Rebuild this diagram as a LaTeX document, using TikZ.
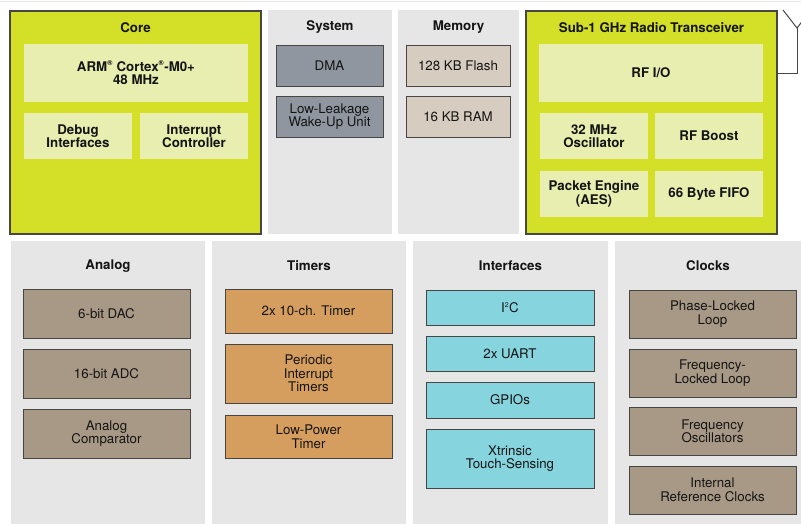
\documentclass[tikz,border=0pt]{standalone}
\usepackage{fontspec}
\setmainfont{TeX Gyre Heros}
\definecolor{lime}{RGB}{212,223,39}
\definecolor{limelight}{RGB}{232,238,176}
\definecolor{panelgray}{RGB}{230,230,230}
\definecolor{sysgray}{RGB}{143,150,159}
\definecolor{memtan}{RGB}{214,204,192}
\definecolor{taupe}{RGB}{168,153,134}
\definecolor{tmrorange}{RGB}{214,158,94}
\definecolor{ifcyan}{RGB}{134,212,222}
\definecolor{edge}{RGB}{72,70,66}
\definecolor{ink}{RGB}{20,20,20}

\begin{document}
\begin{tikzpicture}[x=1pt,y=-1pt,
    every node/.style={text=ink, font=\fontsize{13.3}{13.5}\selectfont},
    sz/.style 2 args={minimum width=#1, minimum height=#2, inner sep=0pt},
    panel/.style={fill=panelgray},
    chip/.style={fill=lime, draw=edge, line width=1.3pt},
    ttl/.style={font=\fontsize{13.3}{13.5}\selectfont\bfseries},
    inner/.style={fill=limelight, align=center, font=\fontsize{13.3}{13.5}\selectfont\bfseries},
    blk/.style={fill=#1, draw=edge, line width=0.9pt, align=center}]
    \clip (0,0) rectangle (801,523);
    \draw[panelgray, line width=1.5pt] (0,1.5) -- (801,1.5);

    \node[chip, sz={251}{223}] (core) at (135.5,122.5) {};
    \node[panel, sz={124}{224}] (system) at (330,122) {};
    \node[panel, sz={121}{224}] (memory) at (458.5,122) {};
    \node[chip, sz={251}{223}] (radio) at (651.5,122.5) {};
    \node[panel, sz={194}{284}] (analog) at (108,383) {};
    \node[panel, sz={194}{284}] (timers) at (309,383) {};
    \node[panel, sz={195}{284}] (interfaces) at (510.5,383) {};
    \node[panel, sz={186}{284}] (clocks) at (708,383) {};

    \node[ttl] (coret) at (135.5,27.5) {Core};
    \node[ttl] (systemt) at (330,27.5) {System};
    \node[ttl] (memoryt) at (458.5,27.5) {Memory};
    \node[ttl] (radiot) at (651.5,27.5) {Sub-1 GHz Radio Transceiver};
    \node[ttl] (analogt) at (108,266.5) {Analog};
    \node[ttl] (timerst) at (309,265.5) {Timers};
    \node[ttl] (interfacest) at (510.5,265.5) {Interfaces};
    \node[ttl] (clockst) at (708,265.5) {Clocks};

    \node[inner, sz={224}{58}] (arm) at (136,73) {ARM\textsuperscript{\scriptsize®} Cortex\textsuperscript{\scriptsize®}-M0+\\48 MHz};
    \node[inner, sz={108}{46}] (debug) at (78,136) {Debug\\Interfaces};
    \node[inner, sz={108}{46}] (intc) at (194,136) {Interrupt\\Controller};

    \node[blk=sysgray, sz={107}{41}] (dma) at (329.5,65.5) {DMA};
    \node[blk=sysgray, sz={107}{41}] (llwu) at (329.5,116.5) {Low-Leakage\\Wake-Up Unit};

    \node[blk=memtan, sz={104}{41}] (flash) at (458,65.5) {128 KB Flash};
    \node[blk=memtan, sz={104}{41}] (ram) at (458,116.5) {16 KB RAM};

    \node[inner, sz={224}{58}] (rfio) at (651,73) {RF I/O};
    \node[inner, sz={108}{46}] (osc) at (594,136) {32 MHz\\Oscillator};
    \node[inner, sz={108}{46}] (boost) at (709,136) {RF Boost};
    \node[inner, sz={108}{46}] (pe) at (594,194) {Packet Engine\\(AES)};
    \node[inner, sz={108}{46}] (fifo) at (709,194) {66 Byte FIFO};

    \node[blk=taupe, sz={167}{49}] (dac) at (106.5,313.5) {6-bit DAC};
    \node[blk=taupe, sz={167}{49}] (adc) at (106.5,373.5) {16-bit ADC};
    \node[blk=taupe, sz={167}{49}] (cmp) at (106.5,433.5) {Analog\\Comparator};

    \node[blk=tmrorange, sz={167}{44}] (tpm) at (308.5,311) {2x 10-ch. Timer};
    \node[blk=tmrorange, sz={167}{59}] (pit) at (308.5,373.5) {Periodic\\Interrupt\\Timers};
    \node[blk=tmrorange, sz={167}{43}] (lpt) at (308.5,436.5) {Low-Power\\Timer};

    \node[blk=ifcyan, sz={168}{35}] (iic) at (510,307.5) {I\textsuperscript{\scriptsize 2}C};
    \node[blk=ifcyan, sz={168}{35}] (uart) at (510,353.5) {2x UART};
    \node[blk=ifcyan, sz={168}{36}] (gpio) at (510,400) {GPIOs};
    \node[blk=ifcyan, sz={168}{59}] (tsi) at (510,458.5) {Xtrinsic\\Touch-Sensing};

    \node[blk=taupe, sz={167}{48}] (pll) at (712.5,314) {Phase-Locked\\Loop};
    \node[blk=taupe, sz={167}{48}] (fll) at (712.5,373) {Frequency-\\Locked Loop};
    \node[blk=taupe, sz={167}{48}] (fosc) at (712.5,431.5) {Frequency\\Oscillators};
    \node[blk=taupe, sz={167}{48}] (irc) at (712.5,490) {Internal\\Reference Clocks};

    \coordinate (ant) at (797,28);
    \coordinate (antl) at (783,10);
    \coordinate (antr) at (811,10);
    \draw[edge, line width=1pt] (rfio.east -| radio.east) -| (ant);
    \draw[edge, line width=1pt] (antl) -- (ant) -- (antr);
\end{tikzpicture}
\end{document}
